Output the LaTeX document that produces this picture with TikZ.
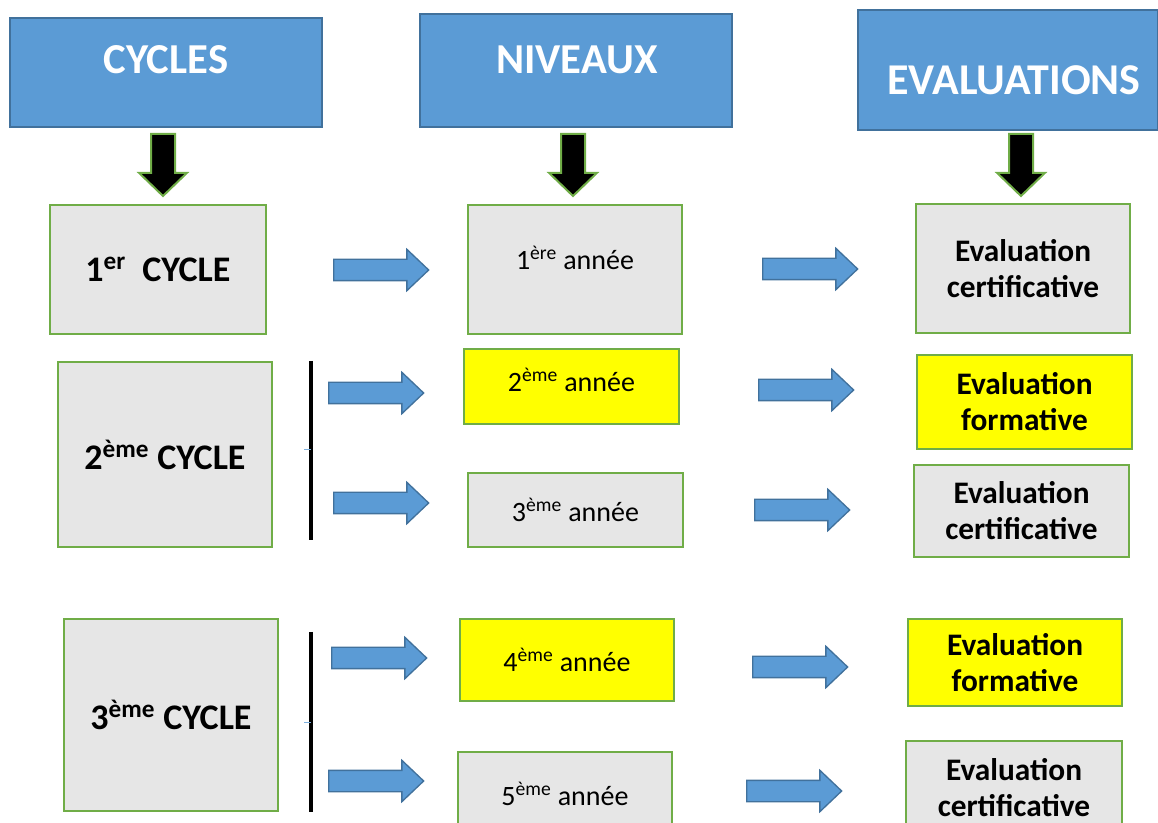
\documentclass[tikz,border=0pt]{standalone}
\usepackage{fontspec}
\setmainfont{Carlito}
\usetikzlibrary{shapes.arrows}
\definecolor{hdrblue}{HTML}{5B9BD5}
\definecolor{hdrline}{HTML}{41719C}
\definecolor{tilegray}{HTML}{E6E6E6}
\definecolor{tilegreen}{HTML}{70AD47}
\definecolor{markyellow}{HTML}{FFFF00}

\begin{document}
\begin{tikzpicture}[x=0.75pt, y=-0.75pt,
        header/.style = {shape=rectangle, draw=hdrline, line width=1.5pt,
                         fill=hdrblue, inner sep=0pt},
        headtxt/.style = {text=white, font=\fontsize{32}{38}\selectfont\bfseries},
        tile/.style = {shape=rectangle, draw=tilegreen, line width=2pt,
                       fill=tilegray, inner sep=0pt, align=center},
        cyctile/.style = {tile, font=\fontsize{27}{32}\selectfont\bfseries},
        yeartile/.style = {tile, font=\fontsize{21}{25}\selectfont},
        yeartxt/.style = {font=\fontsize{21}{25}\selectfont},
        evaltile/.style = {tile, font=\fontsize{23.5}{27}\selectfont\bfseries},
        downarrow/.style = {single arrow, draw=tilegreen, line width=1.5pt, fill=black,
                            shape border rotate=270, minimum height=46.5pt,
                            inner xsep=8.25pt, inner ysep=0pt,
                            single arrow head extend=9pt, single arrow tip angle=92,
                            anchor=tail},
        blockarrow/.style = {single arrow, draw=hdrline, line width=1pt, fill=hdrblue,
                             minimum height=71.25pt, inner xsep=0pt, inner ysep=7.5pt,
                             single arrow head extend=7.5pt, single arrow tip angle=87,
                             anchor=tail},
        bar/.style = {line width=2.5pt, black},
        tickmark/.style = {hdrblue!80, line width=0.6pt}]

    \useasboundingbox (0,0) rectangle (1158,823);

    % headers
    \node[header, minimum width=234pt, minimum height=81.75pt] (cycles) at (166,72.5) {};
    \node[headtxt] (cyclesT) at (166,60) {CYCLES};
    \node[header, minimum width=234pt, minimum height=84.75pt] (niveaux) at (576,70.5) {};
    \node[headtxt] (niveauxT) at (577,60) {NIVEAUX};
    \node[header, minimum width=225pt, minimum height=90pt] (evals) at (1008,70) {};
    \node[headtxt, font=\fontsize{33}{39}\selectfont\bfseries] (evalsT) at (1014,80) {EVALUATIONS};

    \node[downarrow] (cyclesA) at (163,133) {};
    \node[downarrow] (niveauxA) at (573,133) {};
    \node[downarrow] (evalsA) at (1021,133) {};

    % cycles
    \node[cyctile, minimum width=162pt, minimum height=96.75pt] (cyc1) at (158,269.5)
        {1\textsuperscript{er}\ \ CYCLE};
    \node[cyctile, minimum width=160.5pt, minimum height=138.75pt] (cyc2) at (165,454.5)
        {2\textsuperscript{ème} CYCLE};
    \node[cyctile, minimum width=160.5pt, minimum height=144pt] (cyc3) at (171,715)
        {3\textsuperscript{ème} CYCLE};

    \draw[bar] (311,361) -- (311,540);
    \draw[tickmark] (304,449) -- (311,449);
    \draw[bar] (311,632) -- (311,812);
    \draw[tickmark] (304,722) -- (311,722);

    % niveaux
    \node[yeartile, minimum width=160.5pt, minimum height=96.75pt] (an1) at (575,269.5) {};
    \node[yeartxt] (an1T) at (575,258) {1\textsuperscript{ère} année};
    \node[yeartile, fill=markyellow, minimum width=161.25pt, minimum height=56.25pt] (an2) at (571.5,386.5) {};
    \node[yeartxt] (an2T) at (571.5,380) {2\textsuperscript{ème} année};
    \node[yeartile, minimum width=161.25pt, minimum height=55.5pt] (an3) at (575.5,510)
        {3\textsuperscript{ème} année};
    \node[yeartile, fill=markyellow, minimum width=160.5pt, minimum height=61.5pt] (an4) at (567,660)
        {4\textsuperscript{ème} année};
    \node[yeartile, minimum width=160.5pt, minimum height=62.25pt] (an5) at (565,793.5)
        {5\textsuperscript{ème} année};

    % evaluations
    \node[evaltile, minimum width=160.5pt, minimum height=96.75pt] (ev1) at (1023,268.5)
        {Evaluation\\certificative};
    \node[evaltile, fill=markyellow, minimum width=161.25pt, minimum height=70.5pt] (ev2) at (1024.5,402)
        {Evaluation\\formative};
    \node[evaltile, minimum width=161.25pt, minimum height=69pt] (ev3) at (1021.5,511)
        {Evaluation\\certificative};
    \node[evaltile, fill=markyellow, minimum width=160.5pt, minimum height=65.25pt] (ev4) at (1015,662.5)
        {Evaluation\\formative};
    \node[evaltile, minimum width=162pt, minimum height=70.5pt] (ev5) at (1014,788)
        {Evaluation\\certificative};

    % block arrows
    \node[blockarrow] (cn1) at (333,270) {};
    \node[blockarrow] (cn2) at (328,393) {};
    \node[blockarrow] (cn3) at (333,503) {};
    \node[blockarrow] (cn4) at (331,658) {};
    \node[blockarrow] (cn5) at (328,781) {};
    \node[blockarrow] (ne1) at (762,269) {};
    \node[blockarrow] (ne2) at (758,390) {};
    \node[blockarrow] (ne3) at (754,510) {};
    \node[blockarrow] (ne4) at (752,667) {};
    \node[blockarrow] (ne5) at (746,791) {};
\end{tikzpicture}
\end{document}
